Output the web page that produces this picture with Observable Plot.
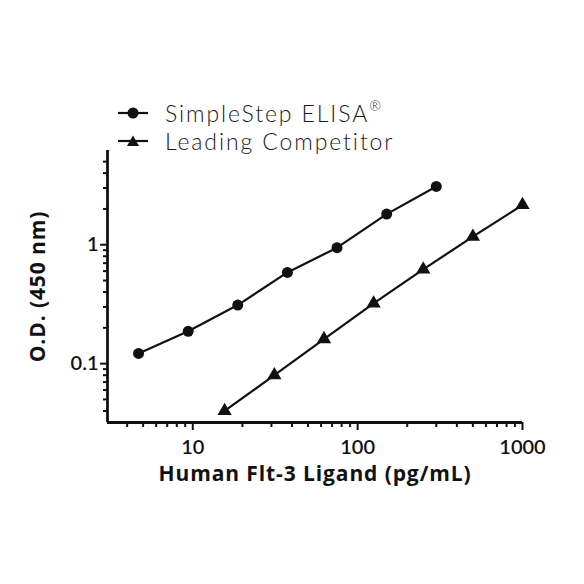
<!DOCTYPE html>
<html>
<head>
<meta charset="utf-8">
<script src="https://cdn.jsdelivr.net/npm/d3@7"></script>
<script src="https://cdn.jsdelivr.net/npm/@observablehq/plot@0.6"></script>
<style>
  html, body { margin: 0; padding: 0; background: white; }
  #wrap { width: 584px; height: 584px; position: relative; }
  #legend { position: relative; height: 136px; }
  .row { position: absolute; left: 117px; height: 26px; line-height: 26px; display: flex; align-items: center; font-family: Lato, "Open Sans", sans-serif; font-size: 23px; font-weight: 300; color: #1a1a1a; white-space: nowrap; letter-spacing: 1.9px; }
  .row span { line-height: 26px; }
  .row svg { margin-right: 16px; }
  sup { font-size: 14px; line-height: 0; position: relative; top: -2px; }
</style>
</head>
<body>
<div id="wrap">
  <div id="legend"></div>
  <div id="chart"></div>
</div>
<script>
// ---- data ----
const seriesNames = ["SimpleStep ELISA", "Leading Competitor"];
const concSimpleStep = [4.69, 9.38, 18.75, 37.5, 75, 150, 300];
const odSimpleStep   = [0.122, 0.187, 0.311, 0.585, 0.944, 1.81, 3.09];
const concCompetitor = [15.6, 31.25, 62.5, 125, 250, 500, 1000];
const odCompetitor   = [0.040, 0.080, 0.161, 0.321, 0.62, 1.17, 2.16];

const xMajorTicks = [10, 100, 1000];
const xMinorTicks = [4, 5, 6, 7, 8, 9, 20, 30, 40, 50, 60, 70, 80, 90, 200, 300, 400, 500, 600, 700, 800, 900];
const yMajorTicks = [0.1, 1];
const yMinorTicks = [0.04, 0.05, 0.06, 0.07, 0.08, 0.09, 0.2, 0.3, 0.4, 0.5, 0.6, 0.7, 0.8, 0.9, 2, 3, 4, 5];
const xDomain = [3.04, 1000];
const yDomain = [0.032, 6.2];
const xTitle = "Human Flt-3 Ligand (pg/mL)";
const yTitle = "O.D. (450 nm)";

const s1 = concSimpleStep.map((c, i) => ({conc: c, od: odSimpleStep[i]}));
const s2 = concCompetitor.map((c, i) => ({conc: c, od: odCompetitor[i]}));

// ---- legend ----
const legend = document.getElementById("legend");
const rows = [
  {html: seriesNames[0] + "<sup>®</sup>", sym: '<circle cx="16" cy="8" r="5.5" fill="#111"/>', top: 100},
  {html: seriesNames[1], sym: '<polygon points="16,2.5 22,13 10,13" fill="#111"/>', top: 128}
];
rows.forEach(r => {
  const d = document.createElement("div");
  d.className = "row";
  d.style.top = r.top + "px";
  d.innerHTML = '<svg width="32" height="16"><line x1="1" x2="31" y1="8" y2="8" stroke="#111" stroke-width="2.2"/>' + r.sym + '</svg><span>' + r.html + '</span>';
  legend.appendChild(d);
});

// ---- chart ----
const titleFont = "'Open Sans', Lato, sans-serif";
const chart = Plot.plot({
  width: 584,
  height: 448,
  marginLeft: 107,
  marginRight: 62,
  marginTop: 14,
  marginBottom: 162,
  x: {type: "log", domain: xDomain, label: null},
  y: {type: "log", domain: yDomain, label: null},
  style: {fontFamily: "Lato, 'Open Sans', sans-serif", color: "#111", background: "white"},
  marks: [
    Plot.axisX(xMinorTicks, {tickSize: 5, tickFormat: () => "", strokeWidth: 2}),
    Plot.axisX(xMajorTicks, {tickSize: 8, tickPadding: 9, tickFormat: d => String(d), fontSize: 20, fontWeight: 600, strokeWidth: 2}),
    Plot.axisY(yMinorTicks, {tickSize: 4, tickFormat: () => "", strokeWidth: 2}),
    Plot.axisY(yMajorTicks, {tickSize: 7, tickPadding: 2, tickFormat: d => String(d), fontSize: 20, fontWeight: 600, strokeWidth: 2}),
    Plot.ruleX([xDomain[0]], {stroke: "#111", strokeWidth: 2.8}),
    Plot.ruleY([yDomain[0]], {stroke: "#111", strokeWidth: 2.8}),
    Plot.line(s1, {x: "conc", y: "od", stroke: "#111", strokeWidth: 2.2}),
    Plot.dot(s1, {x: "conc", y: "od", r: 5.5, fill: "#111", symbol: "circle"}),
    Plot.line(s2, {x: "conc", y: "od", stroke: "#111", strokeWidth: 2.2}),
    Plot.dot(s2, {x: "conc", y: "od", r: 5.3, fill: "#111", symbol: "triangle"}),
    Plot.text([xTitle], {text: d => d, frameAnchor: "bottom", lineAnchor: "top", dy: 44, fontSize: 21, fontWeight: "bold", fontFamily: titleFont}),
    Plot.text([yTitle], {text: d => d, frameAnchor: "left", textAnchor: "middle", rotate: -90, dx: -69, fontSize: 21, fontWeight: "bold", fontFamily: titleFont})
  ]
});
chart.querySelectorAll("text").forEach(t => {
  if (t.textContent === xTitle || t.textContent === yTitle) t.style.letterSpacing = "0.9px";
});
document.getElementById("chart").appendChild(chart);
</script>
</body>
</html>
